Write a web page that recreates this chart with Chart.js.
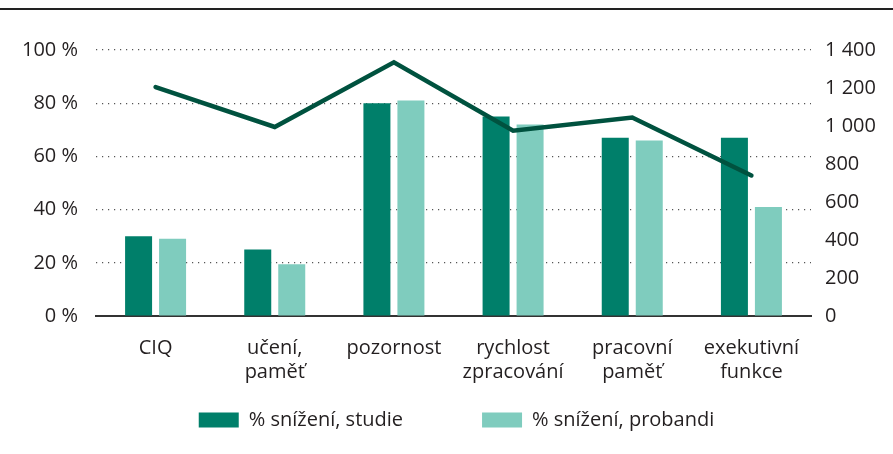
<!DOCTYPE html>
<html>
<head>
<meta charset="utf-8">
<script src="https://cdn.jsdelivr.net/npm/chart.js@4"></script>
<style>
  html, body { margin: 0; padding: 0; background: #fff; }
  #wrap { position: relative; width: 893px; height: 454px; }
  #topline { position: absolute; left: 0; top: 8px; width: 893px; height: 2px; background: #222; }
  canvas { position: absolute; left: 0; top: 0; }
</style>
</head>
<body>
<div id="wrap">
  <div id="topline"></div>
  <canvas id="c" width="893" height="454"></canvas>
</div>
<script>
const categories = ['CIQ', ['učení,', 'paměť'], 'pozornost', ['rychlost', 'zpracování'], ['pracovní', 'paměť'], ['exekutivní', 'funkce']];
const studieValues = [30, 25, 80, 75, 67, 67];
const probandiValues = [29, 19.5, 81, 72, 66, 41];
const lineValues = [1205, 995, 1335, 975, 1045, 740];
const seriesNames = ['% snížení, studie', '% snížení, probandi', 'počet'];
const leftTicks = [0, 20, 40, 60, 80, 100];
const rightTicks = [0, 200, 400, 600, 800, 1000, 1200, 1400];

const TEXT = '#231f20';
const FONT = { family: "'Open Sans', sans-serif", size: 20 };

const layoutPlugin = {
  id: 'layoutFix',
  afterInit(chart) {
    const lg = chart.legend;
    const origFit = lg.fit.bind(lg);
    lg.fit = function () { origFit(); this.height = 42; };
  },
  afterLayout(chart) {
    const lg = chart.legend;
    const pad = lg.options.labels.padding;
    lg.top = 410 - pad;
    lg.bottom = 454;
    lg.left += 10; lg.right += 10;
  }
};

new Chart(document.getElementById('c'), {
  data: {
    labels: categories,
    datasets: [
      { type: 'bar', label: seriesNames[0], data: studieValues, backgroundColor: '#007f6a', yAxisID: 'y', order: 1,
        categoryPercentage: 0.5706, barPercentage: 0.794 },
      { type: 'bar', label: seriesNames[1], data: probandiValues, backgroundColor: '#7fccbe', yAxisID: 'y', order: 1,
        categoryPercentage: 0.5706, barPercentage: 0.794 },
      { type: 'line', label: seriesNames[2], data: lineValues, borderColor: '#00523f', borderWidth: 4.5,
        pointRadius: 0, tension: 0, yAxisID: 'y1', order: 0, borderCapStyle: 'round', borderJoinStyle: 'miter', fill: false }
    ]
  },
  options: {
    responsive: false,
    animation: false,
    devicePixelRatio: 1,
    layout: { padding: { top: 50, bottom: 16, left: 0, right: 0 } },
    plugins: {
      tooltip: { enabled: false },
      legend: {
        position: 'bottom',
        labels: {
          font: FONT, color: TEXT, boxWidth: 40, boxHeight: 15, padding: 79,
          filter: (item) => item.datasetIndex < 2
        }
      }
    },
    scales: {
      x: {
        grid: { display: false, drawTicks: false },
        border: { display: true, color: '#333', width: 2 },
        ticks: { font: FONT, color: TEXT, padding: 20, maxRotation: 0, autoSkip: false },
        afterFit(s) { s.height = 80; }
      },
      y: {
        position: 'left', min: 0, max: 100,
        afterBuildTicks(s) { s.ticks = leftTicks.map(v => ({ value: v })); },
        grid: { color: '#555', lineWidth: 1.2, borderDash: [1.2, 4.8], drawTicks: false },
        border: { display: false, dash: [1.2, 4.8] },
        ticks: { font: FONT, color: TEXT, padding: 18, callback: v => v + ' %' },
        afterFit(s) { s.width = 96; }
      },
      y1: {
        position: 'right', min: 0, max: 1400,
        afterBuildTicks(s) { s.ticks = rightTicks.map(v => ({ value: v })); },
        grid: { display: false, drawTicks: false },
        border: { display: false },
        ticks: { font: FONT, color: TEXT, padding: 14,
          callback: v => String(v).replace(/\B(?=(\d{3})+(?!\d))/g, ' ') },
        afterFit(s) { s.width = 82; }
      }
    }
  },
  plugins: [layoutPlugin]
});
</script>
</body>
</html>
